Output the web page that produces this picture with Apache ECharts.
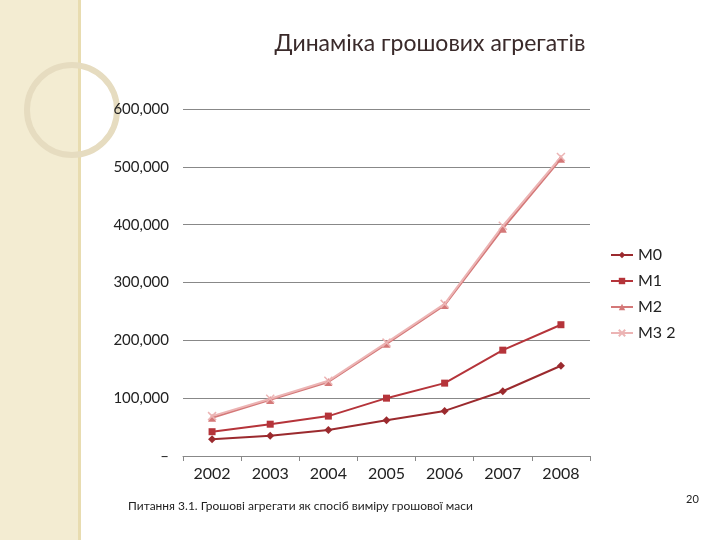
<!DOCTYPE html>
<html><head><meta charset="utf-8">
<script src="https://cdn.jsdelivr.net/npm/echarts@6/dist/echarts.min.js"></script>
<style>html,body{margin:0;background:#fff}#c{width:720px;height:540px}</style>
</head><body><div id="c"></div>
<script>
const years = ["2002", "2003", "2004", "2005", "2006", "2007", "2008"];
const m0 = [29000, 35000, 45000, 62000, 78000, 112000, 156000];
const m1 = [42000, 55000, 69000, 100000, 126000, 183000, 227000];
const m2 = [66000, 97000, 128000, 194000, 261000, 393000, 514000];
const m3 = [69000, 99000, 130000, 196000, 263000, 398000, 517000];

const font = "Lato";
const chart = echarts.init(document.getElementById("c"));

function line(name, data, color, symbol, size) {
  return {
    name, type: "line", data, symbol, symbolSize: size,
    lineStyle: { color, width: 2 },
    itemStyle: { color, borderColor: color, borderWidth: symbol.startsWith("path") ? 1.5 : 0 }
  };
}

chart.setOption({
  animation: false,
  textStyle: { fontFamily: font },
  graphic: [
    { type: "rect", shape: { x: 0, y: 0, width: 78, height: 540 }, style: { fill: "#f3ecd2" } },
    { type: "rect", shape: { x: 78, y: 0, width: 3, height: 540 }, style: { fill: "#e8dcb0" } },
    { type: "circle", shape: { cx: 72, cy: 110, r: 45 }, style: { fill: "none", stroke: "#e6dcc0", lineWidth: 6 } },
    { type: "text", left: 128, top: 500, style: { text: "Питання 3.1. Грошові агрегати як спосіб виміру грошової маси", fontSize: 12, fill: "#222", fontFamily: font } },
    { type: "text", left: 686, top: 494, style: { text: "20", fontSize: 11, fill: "#222", fontFamily: font } }
  ],
  title: {
    text: "Динаміка грошових агрегатів", left: 425, top: 27, textAlign: "center",
    textStyle: { fontSize: 23, fontWeight: "normal", color: "#3a2a2a", fontFamily: font }
  },
  grid: { left: 183, right: 130, top: 109, bottom: 84 },
  legend: {
    orient: "vertical", left: 605, top: 242, itemGap: 10, itemWidth: 22, itemHeight: 8,
    textStyle: { fontSize: 16, color: "#222" },
    data: ["M0", "M1", "M2", "M3 2"]
  },
  xAxis: {
    type: "category", data: years,
    axisLine: { lineStyle: { color: "#888" } },
    axisTick: { show: true, lineStyle: { color: "#888" } },
    axisLabel: { fontSize: 16, color: "#222", margin: 10 }
  },
  yAxis: {
    type: "value", min: 0, max: 600000, interval: 100000,
    axisLine: { show: false },
    splitLine: { lineStyle: { color: "#888" } },
    axisLabel: {
      fontSize: 15, color: "#222", margin: 14, align: "right",
      formatter: v => v === 0 ? "–" : v.toLocaleString("en-US")
    }
  },
  series: [
    line("M0", m0, "#9b2a2e", "diamond", 8),
    line("M1", m1, "#b5343a", "rect", 7),
    line("M2", m2, "#d47878", "triangle", 8),
    line("M3 2", m3, "#ecb4b4", "path://M0,0L10,10M10,0L0,10", 8)
  ]
});
</script></body></html>
